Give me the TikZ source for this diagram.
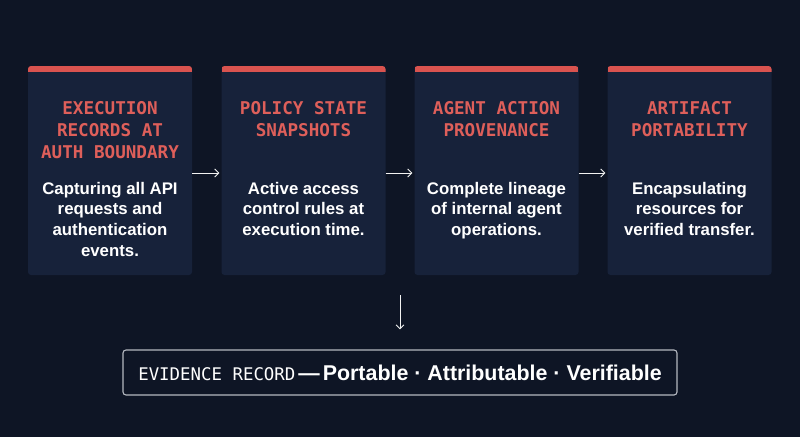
\documentclass[tikz,border=0pt]{standalone}
\usepackage{fontspec}
\setmainfont{Liberation Sans}
\newfontfamily\monof{DejaVu Sans Mono}
\usetikzlibrary{arrows.meta}
\definecolor{bg}{HTML}{0E1525}
\definecolor{card}{HTML}{17223A}
\definecolor{redbar}{HTML}{D9534F}
\definecolor{redtxt}{HTML}{DE5F5A}
\definecolor{boxline}{HTML}{B4B8C0}
\tikzset{
  cardbox/.style={fill=card, rounded corners=3pt, minimum width=164pt, minimum height=209pt, inner sep=0pt},
  titletxt/.style={text=redtxt, font=\monof\bfseries\fontsize{17.6}{21.7}\selectfont, align=center, anchor=north, inner sep=0pt},
  bodytxt/.style={text=white, font=\bfseries\fontsize{16.8}{20.6}\selectfont, align=center, anchor=north, inner sep=0pt},
  flow/.style={draw=white!90!gray, line width=0.9pt, -{Straight Barb[length=4pt,width=8pt]}},
}
\begin{document}
\begin{tikzpicture}[x=1pt,y=-1pt]
\fill[bg] (0,0) rectangle (800,437);
\useasboundingbox (0,0) rectangle (800,437);
\foreach \n/\cx in {1/110,2/303.5,3/496.5,4/689.5}{
  \node[cardbox] (c\n) at (\cx,170.5) {};
  \begin{scope}
    \clip[rounded corners=3pt] (\cx-82,66) rectangle (\cx+82,90);
    \fill[redbar] (\cx-82,66) rectangle (\cx+82,72);
  \end{scope}
}
\node[titletxt] (t1) at (110,101.5) {EXECUTION\\RECORDS AT\\AUTH BOUNDARY};
\node[titletxt] (t2) at (303.5,101.5) {POLICY STATE\\SNAPSHOTS};
\node[titletxt] (t3) at (496.5,101.5) {AGENT ACTION\\PROVENANCE};
\node[titletxt] (t4) at (689.5,101.5) {ARTIFACT\\PORTABILITY};
\node[bodytxt] (b1) at (110,182) {Capturing all API\\requests and\\authentication\\events.};
\node[bodytxt] (b2) at (303.5,182) {Active access\\control rules at\\execution time.};
\node[bodytxt] (b3) at (496.5,182) {Complete lineage\\of internal agent\\operations.};
\node[bodytxt] (b4) at (689.5,182) {Encapsulating\\resources for\\verified transfer.};
\draw[flow] ([yshift=-2.5pt]c1.east) -- ([xshift=-2pt,yshift=-2.5pt]c2.west);
\draw[flow] ([yshift=-2.5pt]c2.east) -- ([xshift=-2pt,yshift=-2.5pt]c3.west);
\draw[flow] ([yshift=-2.5pt]c3.east) -- ([xshift=-2pt,yshift=-2.5pt]c4.west);
\node[draw=boxline, line width=1.1pt, rounded corners=3pt, fill=bg, minimum width=554pt, minimum height=45pt, inner sep=0pt, text=white] (ev) at (400,372.5)
  {{\monof\fontsize{17.4}{20}\selectfont EVIDENCE RECORD}\hspace{3pt}{\bfseries\fontsize{21.4}{20}\selectfont —\hspace{3pt}Portable · Attributable · Verifiable}};
\coordinate (d0) at (400,295);
\draw[flow] (d0) -- ([yshift=20pt]ev.north);
\end{tikzpicture}
\end{document}
